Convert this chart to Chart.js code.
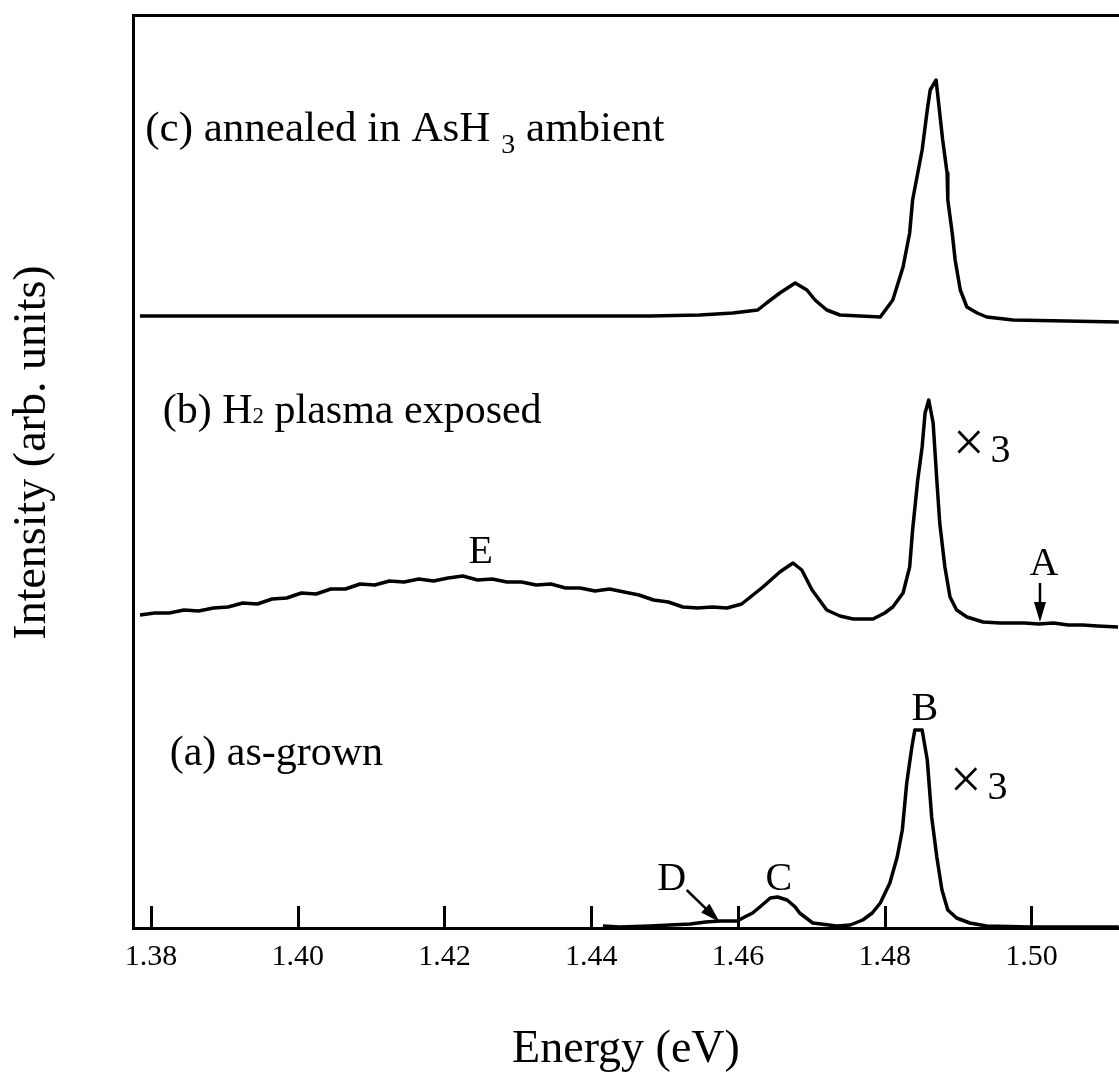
<!DOCTYPE html>
<html>
<head>
<meta charset="utf-8">
<script src="https://cdn.jsdelivr.net/npm/chart.js@4.4.0/dist/chart.umd.min.js"></script>
<style>
html,body{margin:0;padding:0;background:#fff;}
#wrap{width:1119px;height:1078px;position:relative;}
</style>
</head>
<body>
<div id="wrap"><canvas id="c" width="1119" height="1078"></canvas></div>
<script>
// ---- data (Energy in eV, intensity in arbitrary units incl. vertical offsets) ----
const energyA = [1.4416,1.4439,1.4480,1.4507,1.4535,1.4556,1.4575,1.4599,1.4609,1.4620,1.4633,1.4644,1.4654,1.4667,1.4678,1.4684,1.4702,1.4735,1.4753,1.4770,1.4783,1.4794,1.4807,1.4817,1.4824,1.4830,1.4837,1.4841,1.4851,1.4858,1.4864,1.4871,1.4878,1.4886,1.4898,1.4916,1.4939,1.4998,1.5119];
const intensityA = [0.2,0.1,0.2,0.3,0.4,0.6,0.7,0.7,1.1,1.5,2.3,3.0,3.1,2.8,2.1,1.5,0.5,0.2,0.3,0.8,1.5,2.5,4.5,7.1,9.8,14.5,18.1,19.8,19.8,16.8,11.1,7.1,3.8,1.8,1.0,0.5,0.2,0.1,0.1];

const energyB = [1.3785,1.3805,1.3825,1.3845,1.3865,1.3885,1.3905,1.3925,1.3945,1.3965,1.3985,1.4005,1.4025,1.4045,1.4065,1.4085,1.4105,1.4125,1.4145,1.4165,1.4185,1.4205,1.4225,1.4245,1.4265,1.4285,1.4305,1.4325,1.4345,1.4365,1.4385,1.4405,1.4425,1.4445,1.4465,1.4485,1.4505,1.4525,1.4545,1.4565,1.4585,1.4605,
  1.4634,1.4657,1.4675,1.4687,1.4701,1.4721,1.4739,1.4757,1.4784,1.4800,1.4811,1.4825,1.4834,1.4838,1.4845,1.4851,1.4855,1.4860,1.4866,1.4871,1.4875,1.4882,1.4889,1.4898,1.4912,1.4934,1.4957,1.4990,1.5010,1.5030,1.5050,1.5070,1.5090,1.5118];
const intensityB = [31.3,31.5,31.5,31.8,31.7,32.0,32.1,32.5,32.4,32.9,33.0,33.5,33.4,33.9,33.9,34.4,34.3,34.7,34.6,34.9,34.7,35.0,35.2,34.8,34.9,34.6,34.6,34.3,34.4,34.0,34.0,33.7,33.9,33.6,33.3,32.8,32.6,32.1,32.0,32.1,32.0,32.4,
  34.1,35.6,36.5,35.8,33.8,31.8,31.2,30.9,30.9,31.5,32.1,33.5,36.1,39.8,44.8,48.1,51.5,52.8,50.5,44.8,40.5,36.1,33.1,31.8,31.1,30.6,30.5,30.5,30.4,30.5,30.3,30.3,30.2,30.1];

const energyC = [1.3785,1.4139,1.4480,1.4548,1.4593,1.4627,1.4639,1.4657,1.4678,1.4694,1.4705,1.4721,1.4739,1.4794,1.4811,1.4825,1.4834,1.4838,1.4845,1.4851,1.4858,1.4862,1.4870,1.4873,1.4879,1.4885,1.4886,1.4892,1.4896,1.4903,1.4912,1.4926,1.4939,1.4975,1.5119];
const intensityC = [61.2,61.2,61.2,61.3,61.5,61.8,62.5,63.5,64.5,63.8,62.8,61.8,61.3,61.1,62.8,66.1,69.5,72.8,75.5,77.8,81.8,83.8,84.8,82.8,78.8,75.5,72.8,69.5,66.8,63.8,62.1,61.5,61.1,60.8,60.6];

const xTickValues = [1.38,1.40,1.42,1.44,1.46,1.48,1.50];
const xTickLabels = ['1.38','1.40','1.42','1.44','1.46','1.48','1.50'];
const xTitle = 'Energy (eV)';
const yTitle = 'Intensity (arb. units)';

// annotation texts (anchored in data coordinates); parts: [text, fontSize, dy, dxBefore]
const labelItems = [
  {parts:[['(c) annealed in AsH',43,0,0],['3',28,12,11],[' ambient',43,0,0]], x:1.37922, y:78.7, align:'left'},
  {parts:[['(b) H',42,0,0],['2',23,0,0],[' plasma exposed',42,0,0]], x:1.38160, y:50.5, align:'left'},
  {parts:[['(a) as-grown',42,0,0]], x:1.38255, y:16.3, align:'left'},
  {parts:[['E',40,0,0]], x:1.42495, y:36.5, align:'center'},
  {parts:[['A',40,0,0]], x:1.50170, y:35.3, align:'center'},
  {parts:[['B',40,0,0]], x:1.48548, y:20.8, align:'center'},
  {parts:[['C',40,0,0]], x:1.46556, y:3.8, align:'center'},
  {parts:[['D',40,0,0]], x:1.45098, y:3.8, align:'center'},
  {parts:[['\u00D7',56,-1,0],['3',40,0,6]], x:1.48930, y:46.6, align:'left'},
  {parts:[['\u00D7',56,-1,0],['3',40,0,6]], x:1.48889, y:12.9, align:'left'}
];
const arrowItems = [
  {x1:1.50116, y1:34.5, x2:1.50116, y2:30.6},
  {x1:1.45301, y1:3.8,  x2:1.45751, y2:0.6}
];

const FONT = '"Liberation Serif", "Times New Roman", serif';

const overlayPlugin = {
  id: 'overlay',
  afterDraw(chart) {
    const ctx = chart.ctx;
    const xs = chart.scales.x, ys = chart.scales.y;
    const area = chart.chartArea;
    ctx.save();
    // inward tick marks
    ctx.strokeStyle = '#000';
    ctx.lineWidth = 3;
    xTickValues.forEach(v => {
      const px = Math.round(xs.getPixelForValue(v)) + 0.5;
      ctx.beginPath();
      ctx.moveTo(px, area.bottom);
      ctx.lineTo(px, area.bottom - 22);
      ctx.stroke();
    });
    // labels
    ctx.fillStyle = '#000';
    ctx.textBaseline = 'alphabetic';
    labelItems.forEach(item => {
      let total = 0;
      item.parts.forEach(p => { ctx.font = p[1] + 'px ' + FONT; total += ctx.measureText(p[0]).width + p[3]; });
      let px = xs.getPixelForValue(item.x);
      const py = ys.getPixelForValue(item.y);
      if (item.align === 'center') px -= total / 2;
      ctx.textAlign = 'left';
      item.parts.forEach(p => {
        ctx.font = p[1] + 'px ' + FONT;
        px += p[3];
        ctx.fillText(p[0], px, py + p[2]);
        px += ctx.measureText(p[0]).width;
      });
    });
    // arrows
    arrowItems.forEach(a => {
      const x1 = xs.getPixelForValue(a.x1), y1 = ys.getPixelForValue(a.y1);
      const x2 = xs.getPixelForValue(a.x2), y2 = ys.getPixelForValue(a.y2);
      const ang = Math.atan2(y2 - y1, x2 - x1);
      const hl = 20, hw = 6;
      ctx.lineWidth = 2.5;
      ctx.beginPath();
      ctx.moveTo(x1, y1);
      ctx.lineTo(x2 - Math.cos(ang) * hl * 0.8, y2 - Math.sin(ang) * hl * 0.8);
      ctx.stroke();
      ctx.beginPath();
      ctx.moveTo(x2, y2);
      ctx.lineTo(x2 - Math.cos(ang) * hl - Math.sin(ang) * hw, y2 - Math.sin(ang) * hl + Math.cos(ang) * hw);
      ctx.lineTo(x2 - Math.cos(ang) * hl + Math.sin(ang) * hw, y2 - Math.sin(ang) * hl - Math.cos(ang) * hw);
      ctx.closePath();
      ctx.fill();
    });
    // y axis title
    ctx.save();
    ctx.translate(33, (area.top + area.bottom) / 2 - 19);
    ctx.rotate(-Math.PI / 2);
    ctx.font = '46px ' + FONT;
    ctx.textAlign = 'center';
    ctx.textBaseline = 'middle';
    ctx.fillText(yTitle, 0, 0);
    ctx.restore();
    ctx.restore();
  }
};

function series(xsArr, ysArr) { return xsArr.map((x, i) => ({x: x, y: ysArr[i]})); }
const lineStyle = {borderColor:'#000', borderWidth:3.5, pointRadius:0, fill:false, tension:0, borderJoinStyle:'round'};

new Chart(document.getElementById('c'), {
  type: 'line',
  data: {
    datasets: [
      Object.assign({label:'(a) as-grown', data: series(energyA, intensityA)}, lineStyle),
      Object.assign({label:'(b) H2 plasma exposed', data: series(energyB, intensityB)}, lineStyle),
      Object.assign({label:'(c) annealed in AsH3 ambient', data: series(energyC, intensityC)}, lineStyle)
    ]
  },
  options: {
    responsive: false,
    animation: false,
    devicePixelRatio: 1,
    layout: {padding: {left: 0, right: 0, top: 0, bottom: 0}},
    plugins: {legend: {display: false}, tooltip: {enabled: false}},
    scales: {
      x: {
        type: 'linear', position: 'bottom', min: 1.37755, max: 1.51193,
        afterBuildTicks: s => { s.ticks = xTickValues.map(v => ({value: v})); },
        afterFit: s => { s.height = 150; },
        ticks: {
          autoSkip: false, maxRotation: 0, padding: 3, color: '#000',
          font: {family: FONT, size: 30},
          callback: (v, i) => xTickLabels[i]
        },
        grid: {display: false},
        border: {display: true, color: '#000', width: 3},
        title: {display: true, text: xTitle, color: '#000', font: {family: FONT, size: 46}, padding: {top: 0, bottom: 0}}
      },
      xTop: {
        axis: 'x', type: 'linear', position: 'top', min: 1.37755, max: 1.51193,
        afterFit: s => { s.height = 15; },
        ticks: {display: false}, grid: {display: false},
        border: {display: true, color: '#000', width: 3}
      },
      y: {
        type: 'linear', position: 'left', min: 0, max: 91.3,
        afterFit: s => { s.width = 133; },
        ticks: {display: false}, grid: {display: false},
        border: {display: true, color: '#000', width: 3}
      }
    }
  },
  plugins: [overlayPlugin]
});
</script>
</body>
</html>
